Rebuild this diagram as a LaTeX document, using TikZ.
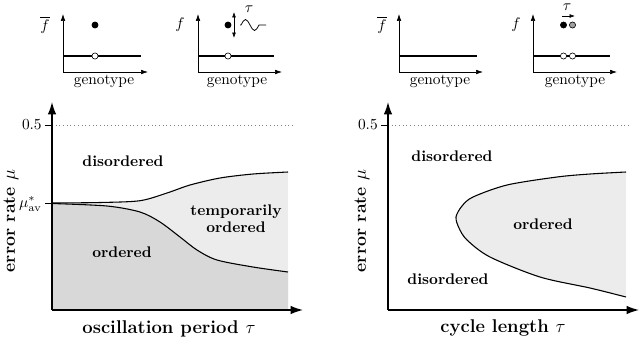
\documentclass[tikz,border=0pt]{standalone}
\usetikzlibrary{arrows.meta}
\definecolor{darkreg}{RGB}{216,216,216}
\definecolor{lightreg}{RGB}{236,236,236}
\definecolor{dotgray}{RGB}{160,160,160}
\begin{document}
\begin{tikzpicture}[x=0.65pt,y=-0.65pt,
  mainaxis/.style={line width=0.9pt,-{Latex[length=8pt,width=5.5pt]}},
  miniaxis/.style={line width=0.4pt,-{Latex[length=4.5pt,width=3pt]}},
  level/.style={line width=0.7pt},
  bnd/.style={line width=0.7pt},
  tick/.style={line width=0.6pt},
  guide/.style={dotted,line width=0.4pt,gray},
  reglabel/.style={font=\bfseries,align=center,inner sep=0pt},
  axlabel/.style={font=\fontsize{12}{14}\selectfont\bfseries,inner sep=0pt},
  yaxlabel/.style={font=\fontsize{11.5}{14}\selectfont\bfseries,inner sep=0pt,rotate=90},
  fdot/.style={circle,draw,fill=black,inner sep=0pt,minimum size=4pt,line width=0.4pt},
  gdot/.style={circle,draw,fill=dotgray,inner sep=0pt,minimum size=4pt,line width=0.4pt},
  odot/.style={circle,draw,fill=white,inner sep=0pt,minimum size=4pt,line width=0.4pt},
  small/.style={inner sep=0pt}]
\useasboundingbox (0,0) rectangle (640,338);

% ---------------- mini plot 1 ----------------
\coordinate (m1o) at (63,72);
\coordinate (m1y) at (63,14);
\coordinate (m1x) at (148,72);
\coordinate (m1a) at (63,56);
\coordinate (m1b) at (141,56);
\draw[miniaxis] (m1o) -- (m1y);
\draw[miniaxis] (m1o) -- (m1x);
\draw[level] (m1a) -- (m1b);
\node[odot] (m1c) at (95,56) {};
\node[fdot] (m1d) at (95,25) {};
\node[small] (m1f) at (45,25) {$\overline{f}$};
\node[small] (m1g) at (104,81) {genotype};

% ---------------- mini plot 2 ----------------
\coordinate (m2o) at (198,72);
\coordinate (m2y) at (198,14);
\coordinate (m2x) at (282,72);
\coordinate (m2a) at (198,56);
\coordinate (m2b) at (274,56);
\draw[miniaxis] (m2o) -- (m2y);
\draw[miniaxis] (m2o) -- (m2x);
\draw[level] (m2a) -- (m2b);
\node[odot] (m2c) at (228,56) {};
\node[fdot] (m2d) at (228,25) {};
\node[small] (m2f) at (180,25) {$f$};
\node[small] (m2g) at (237,81) {genotype};
\coordinate (m2u) at (234,12);
\coordinate (m2l) at (234,38);
\draw[line width=0.4pt,{Latex[length=3.5pt,width=2.5pt]}-{Latex[length=3.5pt,width=2.5pt]}] (m2u) -- (m2l);
\coordinate (m2s) at (240,25);
\coordinate (m2e) at (266,25);
\draw[line width=0.5pt] (m2s) -- (241,25) sin (245.5,19.5) cos (250,25) sin (254.5,30.5) cos (259,25) -- (m2e);
\node[small] (m2t) at (249,9) {$\tau$};

% ---------------- mini plot 3 ----------------
\coordinate (m3o) at (399,72);
\coordinate (m3y) at (399,14);
\coordinate (m3x) at (483,72);
\coordinate (m3a) at (399,56);
\coordinate (m3b) at (477,56);
\draw[miniaxis] (m3o) -- (m3y);
\draw[miniaxis] (m3o) -- (m3x);
\draw[level] (m3a) -- (m3b);
\node[small] (m3f) at (382,25) {$\overline{f}$};
\node[small] (m3g) at (440,81) {genotype};

% ---------------- mini plot 4 ----------------
\coordinate (m4o) at (533,72);
\coordinate (m4y) at (533,14);
\coordinate (m4x) at (617,72);
\coordinate (m4a) at (533,56);
\coordinate (m4b) at (610,56);
\draw[miniaxis] (m4o) -- (m4y);
\draw[miniaxis] (m4o) -- (m4x);
\draw[level] (m4a) -- (m4b);
\node[odot] (m4c1) at (563.5,56) {};
\node[odot] (m4c2) at (572.5,56) {};
\node[fdot] (m4d1) at (563.5,25) {};
\node[gdot] (m4d2) at (572.5,25) {};
\node[small] (m4f) at (516,25) {$f$};
\node[small] (m4g) at (575,81) {genotype};
\coordinate (m4s) at (562,16);
\coordinate (m4e) at (575,16);
\draw[line width=0.4pt,-{Latex[length=3.5pt,width=2.5pt]}] (m4s) -- (m4e);
\node[small] (m4t) at (567,7) {$\tau$};

% ---------------- main left panel ----------------
\def\upperL{(52,203) (100,202.5) (140,200.7) (167,193) (190,185) (220,178) (253,174) (288,172)}
\def\lowerL{(52,203.5) (107,206) (140,212) (160,222) (180,237) (197,250) (217,260) (253,267) (288,272)}
\fill[lightreg] plot[smooth] coordinates {\upperL} -- (288,310) -- (52,310) -- cycle;
\fill[darkreg] plot[smooth] coordinates {\lowerL} -- (288,310) -- (52,310) -- cycle;
\draw[bnd] plot[smooth] coordinates {\upperL};
\draw[bnd] plot[smooth] coordinates {\lowerL};

\coordinate (L0) at (52,310);
\coordinate (Ly) at (52,102);
\coordinate (Lx) at (303,310);
\coordinate (Lt1) at (45,125);
\coordinate (Lt1e) at (52,125);
\coordinate (Ld) at (295,125);
\coordinate (Lt2) at (45,203);
\coordinate (Lt2e) at (52,203);
\draw[guide] (Lt1e) -- (Ld);
\draw[tick] (Lt1) -- (Lt1e);
\draw[tick] (Lt2) -- (Lt2e);
\draw[mainaxis] (L0) -- (Ly);
\draw[mainaxis] (L0) -- (Lx);
\node[small,anchor=east] (Lhalf) at (42,125) {0.5};
\node[small,anchor=east] (Lmu) at (42,204) {$\mu^*_{\mathrm{av}}$};
\node[reglabel] (Ldis) at (123,161) {disordered};
\node[reglabel] (Lord) at (122,252) {ordered};
\node[reglabel] (Ltmp) at (236,219) {temporarily\\[-1pt]ordered};
\node[yaxlabel] (Lylab) at (11,221) {error rate $\mu$};
\node[axlabel] (Lxlab) at (169,329) {oscillation period $\tau$};

% ---------------- main right panel ----------------
\def\curveR{(626,172) (590,174) (557,177) (507,185) (473,197) (462,206) (456,217) (459,228) (467,240) (490,257) (540,277) (590,288) (626,297)}
\fill[lightreg] plot[smooth] coordinates {\curveR} -- cycle;
\draw[bnd] plot[smooth] coordinates {\curveR};

\coordinate (R0) at (388,310);
\coordinate (Ry) at (388,102);
\coordinate (Rx) at (639,310);
\coordinate (Rt1) at (381,125);
\coordinate (Rt1e) at (388,125);
\coordinate (Rd) at (630,125);
\draw[guide] (Rt1e) -- (Rd);
\draw[tick] (Rt1) -- (Rt1e);
\draw[mainaxis] (R0) -- (Ry);
\draw[mainaxis] (R0) -- (Rx);
\node[small,anchor=east] (Rhalf) at (378,125) {0.5};
\node[reglabel] (Rdis1) at (452,156) {disordered};
\node[reglabel] (Rord) at (543,224) {ordered};
\node[reglabel] (Rdis2) at (448,279) {disordered};
\node[yaxlabel] (Rylab) at (362,221) {error rate $\mu$};
\node[axlabel] (Rxlab) at (503,328) {cycle length $\tau$};
\end{tikzpicture}
\end{document}
